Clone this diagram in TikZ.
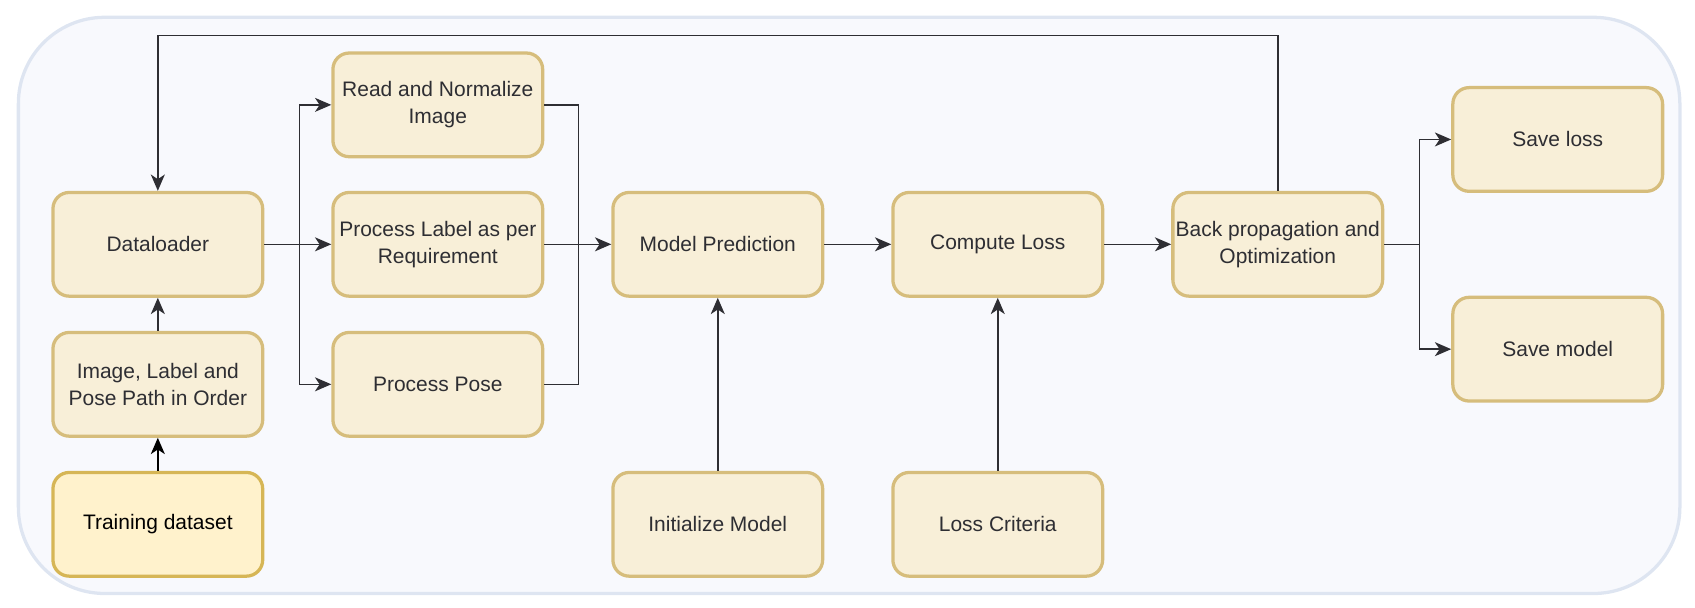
\documentclass[tikz,border=0pt]{standalone}
\usepackage{fontspec}
\setmainfont{Liberation Sans}
\usetikzlibrary{arrows.meta}

\definecolor{boxfill}{HTML}{F8EFD8}
\definecolor{boxline}{HTML}{D6BD7C}
\definecolor{datafill}{HTML}{FFF2CC}
\definecolor{dataline}{HTML}{D6B656}
\definecolor{panelfill}{HTML}{F8F9FD}
\definecolor{panelline}{HTML}{DEE5F1}
\definecolor{inkgray}{HTML}{2E2E33}

\begin{document}
\begin{tikzpicture}[x=0.4638pt,y=-0.4638pt,
    stage/.style={draw=boxline, fill=boxfill, line width=1.4pt, rounded corners=7pt,
      minimum width=90pt, minimum height=44.5pt, align=center, text=inkgray,
      inner sep=1pt, font=\fontsize{9}{11.5}\selectfont},
    flow/.style={draw=inkgray, line width=0.65pt, -{Stealth[length=7pt,width=6pt,inset=2pt]}},
    wire/.style={draw=inkgray, line width=0.65pt}]
   \useasboundingbox (0,0) rectangle (1568,562);
   \draw[fill=panelfill, draw=panelline, line width=1.4pt, rounded corners=37pt]
     (17,16) rectangle (1554,549);

   % input side
   \node[stage] (loader) at (146,226) {Dataloader};
   \node[stage] (paths) at (146,355.5) {Image, Label and\\Pose Path in Order};
   \node[stage, fill=datafill, draw=dataline, text=black] (train) at (146,485) {Training dataset};

   % preprocessing
   \node[stage] (read) at (405,97) {Read and Normalize\\Image};
   \node[stage] (label) at (405,226) {Process Label as per\\Requirement};
   \node[stage] (pose) at (405,355.5) {Process Pose};

   % training step
   \node[stage] (pred) at (664,226) {Model Prediction};
   \node[stage] (loss) at (923,226) {Compute Loss};
   \node[stage] (back) at (1182,226) {Back propagation and\\Optimization};
   \node[stage] (init) at (664,485) {Initialize Model};
   \node[stage] (crit) at (923,485) {Loss Criteria};

   % outputs
   \node[stage] (saveloss) at (1441,129) {Save loss};
   \node[stage] (savemodel) at (1441,323) {Save model};

   \draw[flow, draw=black] (train) -- (paths);
   \draw[flow] (paths) -- (loader);

   \coordinate (split) at (277,226);
   \draw[wire] (loader) -- (split);
   \draw[flow] (split) |- (read);
   \draw[flow] (split) -- (label);
   \draw[flow] (split) |- (pose);

   \coordinate (merge) at (535,226);
   \draw[wire] (read) -| (merge);
   \draw[wire] (pose) -| (merge);
   \draw[flow] (label) -- (pred);

   \draw[flow] (pred) -- (loss);
   \draw[flow] (loss) -- (back);
   \draw[flow] (init) -- (pred);
   \draw[flow] (crit) -- (loss);

   % feedback loop
   \coordinate (top) at (1182,33);
   \draw[flow] (back) -- (top) -| (loader);

   \coordinate (fork) at (1313,226);
   \draw[wire] (back) -- (fork);
   \draw[flow] (fork) |- (saveloss);
   \draw[flow] (fork) |- (savemodel);
 \end{tikzpicture}
\end{document}
